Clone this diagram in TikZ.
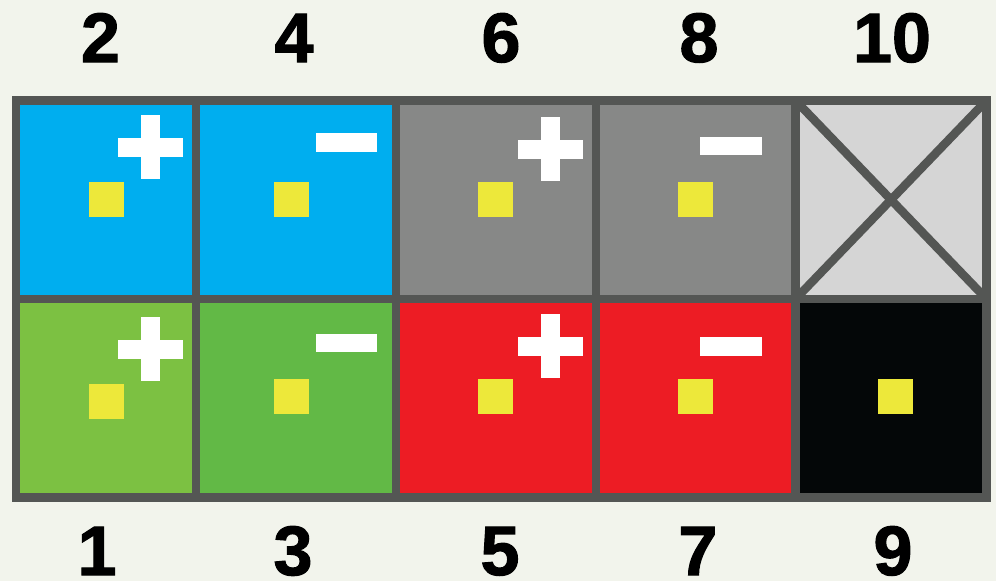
\documentclass[tikz,border=0pt]{standalone}
\usepackage{fontspec}
\newfontfamily\numfont{Liberation Sans}[BoldFeatures={FakeBold=1.6}]
\definecolor{bgc}{HTML}{F2F4EC}
\definecolor{framec}{HTML}{545654}
\definecolor{cblue}{HTML}{00AEEF}
\definecolor{cgreenA}{HTML}{7CC142}
\definecolor{cgreenB}{HTML}{62B946}
\definecolor{cgray}{HTML}{878887}
\definecolor{cred}{HTML}{ED1C24}
\definecolor{clight}{HTML}{D5D5D5}
\definecolor{cblack}{HTML}{040708}
\definecolor{cyel}{HTML}{EDE83A}
\begin{document}
\begin{tikzpicture}[x=1pt,y=-1pt,
  cellbox/.style={draw=framec, line width=8.5pt, inner sep=0pt, outer sep=0pt, minimum height=198.5pt},
  dotsq/.style={fill=cyel, inner sep=0pt, minimum size=35pt},
  hbar/.style={fill=white, inner sep=0pt, minimum width=65pt, minimum height=19pt},
  vbar/.style={fill=white, inner sep=0pt, minimum width=19pt, minimum height=64pt},
  mbar/.style={fill=white, inner sep=0pt, minimum width=61.5pt, minimum height=18.5pt},
  numlabel/.style={font=\numfont\bfseries\fontsize{70}{70}\selectfont, anchor=base, inner sep=0pt, text depth=0pt}]
\fill[bgc] (0,0) rectangle (996,581);
\useasboundingbox (0,0) rectangle (996,581);
% cells
\node[cellbox, fill=cblue,   minimum width=180pt]   (c2)  at (106,199.75) {};
\node[cellbox, fill=cgreenA, minimum width=180pt]   (c1)  at (106,398.25) {};
\node[cellbox, fill=cblue,   minimum width=200pt]   (c4)  at (296,199.75) {};
\node[cellbox, fill=cgreenB, minimum width=200pt]   (c3)  at (296,398.25) {};
\node[cellbox, fill=cgray,   minimum width=200pt]   (c6)  at (496,199.75) {};
\node[cellbox, fill=cred,    minimum width=200pt]   (c5)  at (496,398.25) {};
\node[cellbox, fill=cgray,   minimum width=199.5pt] (c8)  at (695.75,199.75) {};
\node[cellbox, fill=cred,    minimum width=199.5pt] (c7)  at (695.75,398.25) {};
\node[cellbox, fill=clight,  minimum width=191pt]   (c10) at (891,199.75) {};
\node[cellbox, fill=cblack,  minimum width=191pt]   (c9)  at (891,398.25) {};
% cross in cell 10
\begin{scope}
\clip (c10.north west) rectangle (c10.south east);
\draw[framec, line width=8.5pt] (c10.north west) -- (c10.south east);
\draw[framec, line width=8.5pt] (c10.north east) -- (c10.south west);
\end{scope}
% yellow squares
\node[dotsq] (y2) at (106.5,199.5) {};
\node[dotsq] (y1) at (106.5,401.3) {};
\node[dotsq] (y4) at (291.3,199.5) {};
\node[dotsq] (y3) at (291,396.5) {};
\node[dotsq] (y6) at (495.8,199.8) {};
\node[dotsq] (y5) at (495.8,396.7) {};
\node[dotsq] (y8) at (695.2,199.7) {};
\node[dotsq] (y7) at (695.2,396.7) {};
\node[dotsq] (y9) at (895.5,396.5) {};
% plus signs
\node[hbar] (p2h) at (150.7,147.5) {};
\node[vbar] (p2v) at (150.5,147) {};
\node[hbar] (p1h) at (150.8,349.8) {};
\node[vbar] (p1v) at (150.6,349.2) {};
\node[hbar] (p6h) at (550.2,149.2) {};
\node[vbar] (p6v) at (550.3,148.7) {};
\node[hbar] (p5h) at (550.2,346.7) {};
\node[vbar] (p5v) at (550.3,345.7) {};
% minus signs
\node[mbar] (m4) at (346.7,142.5) {};
\node[mbar] (m3) at (346.5,343) {};
\node[mbar] (m8) at (730.8,146.2) {};
\node[mbar] (m7) at (730.8,346.7) {};
% labels
\node[numlabel] (l2)  at (100.5,62) {2};
\node[numlabel] (l4)  at (294,62) {4};
\node[numlabel] (l6)  at (501,62) {6};
\node[numlabel] (l8)  at (699,62) {8};
\node[numlabel] (l10) at (892,62) {10};
\node[numlabel] (l1)  at (97,575) {1};
\node[numlabel] (l3)  at (293,575) {3};
\node[numlabel] (l5)  at (500,575) {5};
\node[numlabel] (l7)  at (698,575) {7};
\node[numlabel] (l9)  at (893,575) {9};
\end{tikzpicture}
\end{document}
